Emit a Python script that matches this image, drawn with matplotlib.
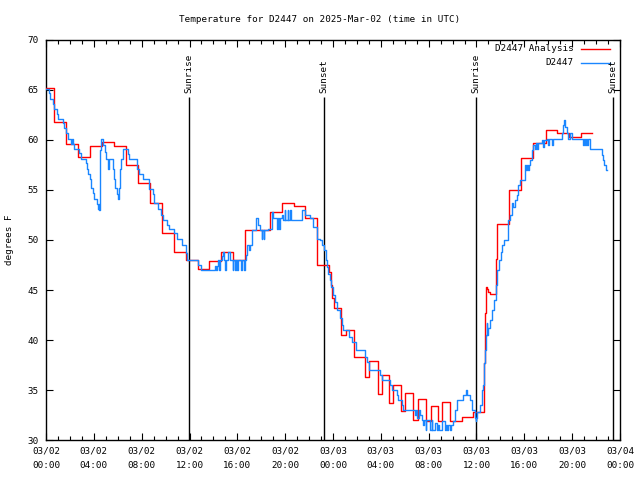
import matplotlib
matplotlib.use("Agg")
import matplotlib.pyplot as plt
from matplotlib.ticker import MultipleLocator

# ---- data (hours since 03/02 00:00 UTC) ----
red_t = [0.00, 0.67, 1.67, 2.67, 3.67, 4.67, 5.67, 6.67, 7.67, 8.67, 9.67, 10.67, 11.67,
         12.67, 13.67, 14.67, 15.67, 16.67, 18.77, 19.77, 20.74, 21.70, 22.70, 23.67,
         23.80, 23.95, 24.08, 24.64, 25.06, 25.76, 26.68, 27.04, 27.74, 28.07, 28.68,
         28.99, 29.69, 30.02, 30.72, 31.11, 31.75, 32.20, 32.80, 33.15, 33.80, 34.75,
         35.70, 36.65, 36.72, 36.80, 36.90, 37.00, 37.10, 37.67, 37.70, 38.70, 39.75,
         40.75, 41.80, 42.75, 43.75, 44.70, 45.70]
red_v = [65.2, 61.8, 59.6, 58.3, 59.4, 59.8, 59.4, 57.5, 55.7, 53.7, 50.7, 48.8, 48.0,
         47.1, 47.9, 48.8, 48.0, 51.0, 52.8, 53.7, 53.4, 52.2, 47.5, 46.8,
         45.5, 44.2, 43.2, 40.5, 41.0, 38.3, 36.3, 37.9, 34.6, 36.5, 33.7,
         35.5, 32.9, 34.7, 32.0, 34.1, 31.9, 33.4, 31.9, 33.8, 31.9, 32.3,
         32.8, 37.7, 42.7, 45.3, 45.1, 44.8, 44.6, 48.1, 51.6, 55.0, 58.2,
         59.7, 61.0, 60.7, 60.3, 60.7, 60.7]

blue_t = [0.00, 0.22, 0.33, 0.61, 0.70, 0.89, 0.98, 1.39, 1.53, 1.67, 1.81, 2.09, 2.17,
          2.29, 2.37, 2.73, 2.93, 3.35, 3.45, 3.55, 3.65, 3.76, 3.96, 4.04, 4.30, 4.38,
          4.42, 4.44, 4.48, 4.52, 4.58, 4.80, 4.92, 5.02, 5.16, 5.24, 5.58, 5.68, 5.77,
          5.91, 6.00, 6.08, 6.19, 6.30, 6.40, 6.83, 6.97, 7.58, 7.75, 8.08, 8.59, 8.95,
          9.03, 9.39, 9.59, 9.76, 10.15, 10.29, 10.73, 10.98, 11.35, 11.68, 11.76, 12.74,
          12.93, 14.13, 14.25, 14.32, 14.40, 14.50, 14.56, 14.70, 14.78, 14.92, 15.00,
          15.06, 15.25, 15.35, 15.60, 15.66, 15.80, 15.86, 16.00, 16.06, 16.30, 16.36,
          16.55, 16.62, 16.70, 16.85, 16.95, 17.02, 17.20, 17.55, 17.70, 17.90, 18.05,
          18.10, 18.20, 18.25, 18.59, 18.87, 19.00, 19.30, 19.36, 19.50, 19.56, 19.71,
          19.85, 19.95, 20.01, 20.20, 20.26, 20.40, 20.46, 21.38, 21.66, 22.08, 22.36,
          22.64, 22.92, 23.05, 23.25, 23.40, 23.50, 23.60, 23.75, 23.85, 24.00, 24.15,
          24.36, 24.55, 24.72, 24.85, 25.34, 25.60, 25.90, 26.68, 26.85, 27.01, 27.93,
          28.07, 28.77, 28.91, 29.33, 29.47, 29.74, 29.88, 30.86, 30.95, 31.05, 31.15,
          31.28, 31.42, 31.55, 31.60, 31.75, 31.80, 32.11, 32.25, 32.30, 32.53, 32.67,
          32.80, 32.88, 33.09, 33.37, 33.45, 33.55, 33.65, 33.75, 33.85, 34.06, 34.20,
          34.34, 34.90, 35.13, 35.24, 35.46, 35.65, 35.88, 35.95, 36.00, 36.07, 36.29,
          36.43, 36.57, 36.65, 36.72, 36.77, 36.85, 36.90, 37.00, 37.15, 37.32, 37.45,
          37.60, 37.75, 37.88, 38.02, 38.16, 38.30, 38.66, 38.80, 38.94, 39.08, 39.22,
          39.36, 39.50, 39.64, 40.06, 40.15, 40.22, 40.30, 40.36, 40.47, 40.61, 40.75,
          40.90, 40.96, 41.10, 41.16, 41.45, 41.55, 41.62, 41.87, 42.00, 42.06, 42.30,
          42.36, 43.13, 43.26, 43.33, 43.40, 43.54, 43.68, 43.82, 43.96, 44.93, 45.00,
          45.10, 45.16, 45.25, 45.30, 45.49, 46.39, 46.50, 46.60, 46.70, 46.80, 46.89]
blue_v = [65.1, 64.7, 64.1, 63.6, 63.1, 62.6, 62.1, 61.7, 61.2, 60.7, 60.1, 59.6, 60.1,
          59.6, 59.1, 58.7, 58.1, 57.7, 57.1, 56.6, 56.1, 55.2, 54.7, 54.1, 53.6, 53.1,
          53.6, 53.0, 56.0, 59.0, 60.1, 59.5, 58.8, 58.1, 57.1, 58.1, 57.1, 56.1, 55.2,
          54.6, 54.1, 55.2, 57.1, 58.1, 59.1, 58.6, 58.1, 57.1, 56.6, 56.1, 55.1, 54.6,
          53.7, 53.1, 52.5, 52.0, 51.5, 51.1, 50.7, 50.1, 49.5, 48.7, 48.0, 47.5,
          47.0, 47.4, 47.0, 47.4, 48.0, 47.0, 48.0, 48.4, 48.8, 48.0, 47.0,
          48.0, 48.8, 48.0, 47.0, 48.0, 47.0, 48.0, 47.0, 48.0, 47.0, 48.0,
          47.0, 48.0, 48.5, 49.5, 49.0, 49.5, 51.0, 52.2, 51.5, 51.0, 50.1,
          51.0, 50.1, 51.0, 51.1, 52.8, 52.2, 51.1, 52.2, 51.1, 52.2, 52.5,
          52.0, 53.0, 52.0, 53.0, 52.0, 53.0, 52.0, 53.0, 52.5, 52.2, 51.3,
          50.1, 50.0, 49.5, 49.0, 48.0, 47.3, 46.6, 46.0, 45.3, 44.5, 43.8,
          43.0, 42.2, 41.5, 41.0, 40.3, 39.8, 39.0, 38.3, 37.8, 37.0, 36.5,
          36.0, 35.5, 35.0, 34.5, 34.0, 33.5, 33.0, 32.5, 33.0, 32.2, 33.0,
          32.5, 32.0, 31.5, 32.0, 31.0, 32.0, 31.0, 32.0, 31.0, 31.7, 31.0,
          31.5, 31.0, 31.9, 31.0, 31.5, 31.0, 31.5, 31.0, 31.5, 31.9, 33.0,
          34.0, 34.5, 35.0, 34.5, 34.0, 33.0, 32.2, 31.9, 32.2, 32.8, 33.5,
          35.0, 35.5, 37.7, 39.0, 40.5, 41.7, 40.5, 41.2, 42.0, 43.0, 44.0,
          45.5, 47.0, 48.0, 48.8, 49.5, 50.0, 52.0, 52.5, 53.7, 53.3, 54.0,
          54.5, 55.5, 56.0, 57.5, 57.0, 57.5, 57.0, 57.5, 58.0, 59.0, 59.5,
          59.1, 59.7, 59.1, 59.7, 60.0, 59.3, 60.0, 60.1, 59.5, 60.1, 59.5,
          60.1, 60.7, 61.5, 62.0, 61.3, 60.7, 60.1, 60.7, 60.1, 59.5, 60.1,
          59.5, 60.1, 59.5, 60.1, 59.1, 59.1, 58.5, 58.0, 57.5, 57.0, 57.0]

event_t = [11.96, 23.25, 35.96, 47.42]
event_labels = ["Sunrise", "Sunset", "Sunrise", "Sunset"]

xtick_pos = list(range(0, 49, 4))
xtick_labels = ["03/02\n00:00", "03/02\n04:00", "03/02\n08:00", "03/02\n12:00",
                "03/02\n16:00", "03/02\n20:00", "03/03\n00:00", "03/03\n04:00",
                "03/03\n08:00", "03/03\n12:00", "03/03\n16:00", "03/03\n20:00",
                "03/04\n00:00"]
ytick_pos = [30, 35, 40, 45, 50, 55, 60, 65, 70]

title = "Temperature for D2447 on 2025-Mar-02 (time in UTC)"
series_names = ["D2447 Analysis", "D2447"]

# ---- drawing ----
FONT = "DejaVu Sans Mono"
FS = 6.7
plt.rcParams["font.family"] = FONT
plt.rcParams["font.size"] = FS

RED = "#ff0000"
BLUE = "#1a86ff"

fig = plt.figure(figsize=(6.4, 4.8), dpi=100)
ax = fig.add_axes([46 / 640, 40 / 480, 574 / 640, 400 / 480])

ax.step(red_t, red_v, where="post", color=RED, lw=1.0, zorder=3)
ax.step(blue_t, blue_v, where="post", color=BLUE, lw=1.0, zorder=4)

for t, lab in zip(event_t, event_labels):
    ax.vlines(t, 30, 64.3, color="black", lw=1.0, zorder=2)
    ax.text(t, 64.7, lab, rotation=90, ha="center", va="bottom", fontsize=FS)

ax.set_xlim(0, 48)
ax.set_ylim(30, 70)
ax.set_xticks(xtick_pos)
ax.set_xticklabels(xtick_labels, linespacing=1.7)
ax.xaxis.set_minor_locator(MultipleLocator(1))
ax.set_yticks(ytick_pos)
ax.tick_params(which="both", direction="in", top=True, right=True, width=0.8)
ax.tick_params(axis="x", which="major", length=5, pad=5)
ax.tick_params(axis="x", which="minor", length=3)
ax.tick_params(axis="y", which="major", length=5, pad=5)
for s in ax.spines.values():
    s.set_linewidth(1.0)

fig.text(0.5, 1 - 20 / 480, title, ha="center", va="center", fontsize=FS)
fig.text(10 / 640, 0.5, "degrees F", rotation=90, ha="center", va="center", fontsize=FS)

# legend (gnuplot style: right-aligned text followed by a line sample)
leg_y = [49, 63]
for name, col, py in zip(series_names, [RED, BLUE], leg_y):
    ya = (440 - py) / 400
    ax.text((574 - 46) / 574, ya, name, transform=ax.transAxes, ha="right",
            va="center", fontsize=FS)
    ax.plot([(581 - 46) / 574, (610 - 46) / 574], [ya, ya], transform=ax.transAxes,
            color=col, lw=1.0, clip_on=False)

fig.savefig("out.png", dpi=100)
